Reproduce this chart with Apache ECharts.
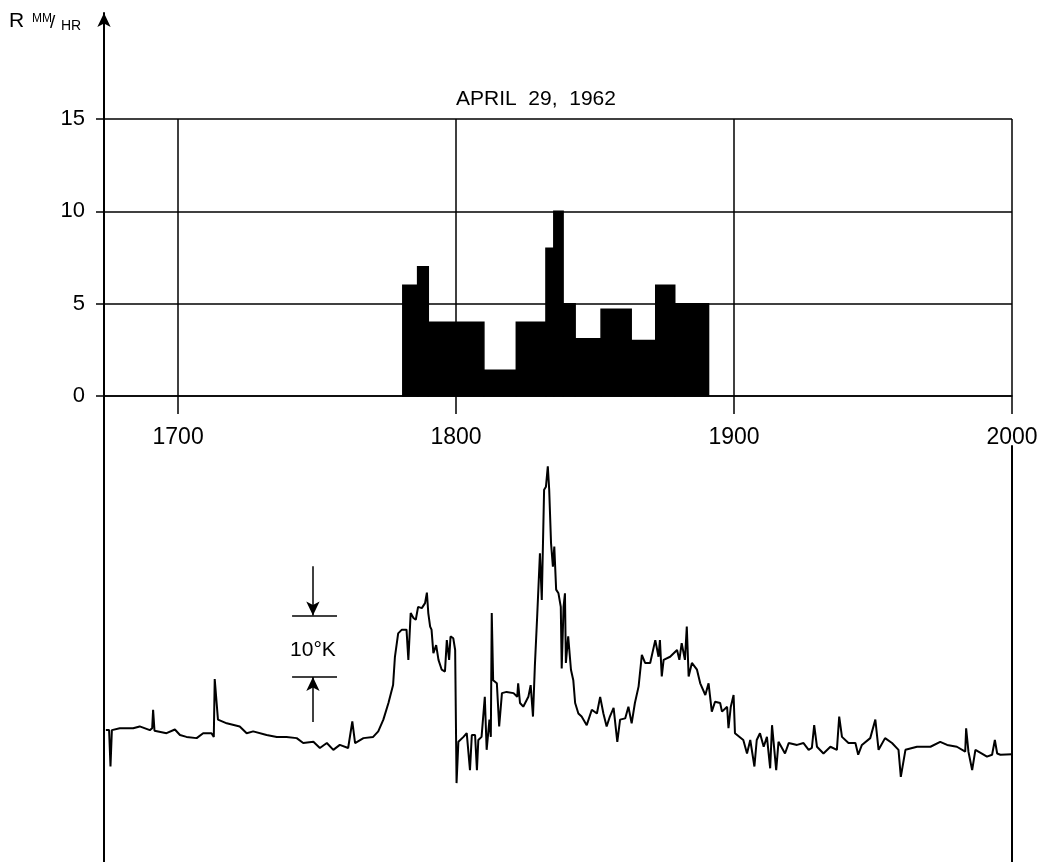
<!DOCTYPE html>
<html><head><meta charset="utf-8">
<script src="https://cdn.jsdelivr.net/npm/echarts@6/dist/echarts.min.js"></script>
<style>html,body{margin:0;padding:0;background:#fff}#c{width:1044px;height:862px}</style>
</head><body><div id="c"></div>
<script>
// time axis in minutes after midnight (1020 = 17:00)
const xTickValues = [1020, 1080, 1140, 1200];
const rateTickValues = [0, 5, 10, 15];

// rain-rate histogram: bar start, bar end (minutes), rate (mm/hr)
const barStart = [1068.5,1071.7,1074.0,1086.0,1093.0,1099.4,1101.1,1103.1,1105.7,1111.3,1117.8,1123.1,1127.2];
const barEnd   = [1071.7,1074.0,1086.0,1093.0,1099.4,1101.1,1103.1,1105.7,1111.3,1117.8,1123.1,1127.2,1134.5];
const barRate  = [6,7,4,1.4,4,8,10,5,3.1,4.7,3,6,5];

// antenna temperature trace (relative, K)
const traceTime = [
1004.4,1005.1,1005.4,1005.7,1007.4,1010.3,1011.7,1013.9,1014.4,1014.6,
1014.9,1017.5,1019.3,1020.4,1021.8,1024.0,1025.4,1027.2,1027.7,1027.9,
1028.6,1030.5,1033.3,1034.8,1036.2,1039.1,1041.3,1043.4,1045.6,1047.0,
1049.2,1050.6,1052.1,1053.5,1054.9,1056.7,1057.6,1058.2,1060.0,1062.1,
1063.2,1064.3,1065.4,1066.4,1066.8,1067.5,1068.3,1069.3,1069.7,1070.2,
1070.8,1071.3,1071.8,1072.6,1073.3,1073.7,1074.0,1074.4,1074.7,1075.1,
1075.7,1076.2,1076.9,1077.6,1078.0,1078.5,1078.8,1079.4,1079.8,1080.1,
1080.5,1081.6,1082.3,1083.0,1083.4,1084.1,1084.5,1084.8,1085.5,1086.2,
1086.6,1087.2,1087.5,1087.7,1088.0,1088.8,1089.3,1089.9,1090.9,1092.4,
1093.2,1093.4,1093.8,1094.5,1095.6,1096.1,1096.6,1097.0,1097.5,1098.1,
1098.5,1099.0,1099.4,1099.8,1100.1,1100.5,1100.9,1101.2,1101.6,1102.1,
1102.6,1102.8,1103.2,1103.5,1103.7,1104.2,1104.8,1105.3,1105.7,1106.4,
1107.1,1108.2,1109.3,1110.4,1111.1,1111.8,1112.5,1113.2,1114.0,1114.8,
1115.4,1116.5,1117.2,1117.9,1118.6,1119.4,1120.1,1120.8,1121.9,1123.0,
1123.7,1124.0,1124.4,1124.8,1126.2,1127.7,1128.2,1128.7,1129.4,1129.8,
1130.2,1130.9,1132.0,1132.7,1133.8,1134.5,1135.2,1135.9,1137.0,1137.4,
1138.5,1138.8,1139.3,1139.9,1140.2,1142.0,1142.8,1143.5,1144.4,1144.9,
1145.6,1146.4,1147.1,1147.8,1148.2,1149.1,1149.6,1151.0,1151.8,1153.6,
1155.0,1156.1,1156.8,1157.3,1157.9,1159.3,1160.8,1162.2,1162.7,1163.3,
1164.7,1166.2,1166.8,1167.6,1169.4,1170.5,1171.2,1172.6,1174.1,1175.5,
1176.0,1177.0,1179.5,1182.4,1184.5,1186.0,1188.1,1189.9,1190.1,1190.6,
1191.4,1192.1,1193.5,1194.6,1195.7,1196.3,1196.8,1197.5,1200.0];
const traceTemp = [
21.4,21.4,15.5,21.4,21.7,21.7,22.0,21.4,21.7,24.7,
21.3,20.9,21.5,20.6,20.3,20.1,20.9,20.9,20.3,29.7,
23.1,22.5,22.0,20.9,21.2,20.6,20.3,20.3,20.1,19.3,
19.5,18.5,19.3,18.2,19.0,18.5,22.8,19.3,20.1,20.3,
21.2,23.1,25.8,28.7,33.3,37.1,37.7,37.7,32.8,40.4,
39.6,39.3,41.4,41.2,42.0,43.7,40.4,38.2,37.7,33.9,
35.2,32.8,31.2,30.9,36.0,32.8,36.6,36.3,34.4,12.8,
19.5,20.3,20.9,14.9,20.6,20.6,14.9,19.8,20.3,26.8,
18.2,23.1,20.3,40.4,29.5,29.0,22.0,27.4,27.6,27.4,
26.8,29.0,25.8,25.2,26.8,28.7,23.6,31.7,39.8,50.1,
42.5,60.4,60.9,64.2,60.4,51.7,47.9,51.2,44.2,43.6,
41.4,31.4,41.4,43.6,32.3,36.6,31.2,29.5,25.8,24.1,
23.6,22.2,24.7,24.1,26.8,24.1,22.0,23.6,25.0,19.5,
23.1,23.3,25.2,22.5,25.8,28.5,33.6,32.3,32.3,36.0,
33.3,36.0,30.1,32.8,33.3,34.4,32.8,35.5,32.8,38.2,
30.1,32.3,31.2,29.0,27.1,29.0,24.4,26.0,25.8,24.4,
25.2,21.7,25.2,27.1,20.9,19.8,17.6,19.8,15.5,19.8,
20.9,18.7,20.3,15.2,22.2,14.9,19.5,17.6,19.3,19.0,
19.3,18.2,18.5,22.2,18.7,17.6,18.7,18.2,23.6,20.3,
19.3,19.3,17.4,19.0,20.1,23.1,18.2,20.1,19.3,18.2,
13.8,18.2,18.7,18.7,19.5,19.0,18.7,17.9,21.7,17.9,
14.9,18.2,17.6,17.1,17.4,19.8,17.6,17.4,17.5];

// 10 K scale bar (time of bar, its span, and the two levels, K)
const scaleBarTime = [1044.6, 1049.1, 1054.3];
const scaleBarK = [30, 40];
const scaleArrowTailK = [22.7, 48];
const scaleBarLabel = '10°K';

const FONT = 'Liberation Sans';
const hhmm = v => String(Math.floor(v / 60) * 100 + Math.round(v % 60));

const chart = echarts.init(document.getElementById('c'), null, {renderer: 'canvas'});
chart.setOption({
  animation: false,
  backgroundColor: '#fff',
  textStyle: {fontFamily: FONT, color: '#000'},
  title: [{
    text: 'APRIL  29,  1962', left: 451, top: 84,
    textStyle: {fontFamily: FONT, fontSize: 21, fontWeight: 'normal', color: '#000'}
  }],
  graphic: [
    {type: 'text', left: 9, top: 11, style: {text: 'R', font: '21px "Liberation Sans"', fill: '#000'}},
    {type: 'text', left: 32, top: 13, style: {text: 'MM', font: '12px "Liberation Sans"', fill: '#000'}},
    {type: 'text', left: 50, top: 13, style: {text: '/', font: '19px "Liberation Sans"', fill: '#000'}},
    {type: 'text', left: 61, top: 19, style: {text: 'HR', font: '14px "Liberation Sans"', fill: '#000'}}
  ],
  grid: [
    {left: 104, right: 32, top: 119, bottom: 466},
    {left: 104, right: 32, top: 446, bottom: 0},
    {left: 104, width: 10, top: 13, bottom: 0}
  ],
  xAxis: [
    {
      gridIndex: 0, type: 'value', min: 1004, max: 1200,
      axisLine: {show: true, lineStyle: {color: '#000', width: 1.5}},
      axisTick: {show: true, customValues: xTickValues, length: 18, lineStyle: {color: '#000', width: 1.5}},
      axisLabel: {show: true, customValues: xTickValues, formatter: hhmm, fontSize: 23, color: '#000', margin: 30, fontFamily: FONT},
      splitLine: {show: true, lineStyle: {color: '#000', width: 1.5}}
    },
    {gridIndex: 1, type: 'value', min: 1004, max: 1200, show: false},
    {gridIndex: 2, type: 'value', min: 0, max: 1, show: false}
  ],
  yAxis: [
    {
      gridIndex: 0, type: 'value', min: 0, max: 15, interval: 5,
      axisLine: {show: false},
      axisTick: {show: true, length: 8, lineStyle: {color: '#000', width: 1.5}},
      axisLabel: {show: true, fontSize: 22, color: '#000', margin: 19, fontFamily: FONT},
      splitLine: {show: true, lineStyle: {color: '#000', width: 1.5}}
    },
    {gridIndex: 1, type: 'value', min: 0, max: 67.5, show: false},
    {
      gridIndex: 1, type: 'value', min: 0, max: 67.5, position: 'right',
      axisLine: {show: true, lineStyle: {color: '#000', width: 2}},
      axisTick: {show: false}, axisLabel: {show: false}, splitLine: {show: false}
    },
    {
      gridIndex: 2, type: 'value', min: 0, max: 1,
      axisLine: {show: true, symbol: ['none', 'arrow'], symbolSize: [10, 14], lineStyle: {color: '#000', width: 2}},
      axisTick: {show: false}, axisLabel: {show: false}, splitLine: {show: false}
    }
  ],
  series: [
    {
      type: 'custom', xAxisIndex: 0, yAxisIndex: 0,
      data: barStart.map((s, i) => [s, barEnd[i], barRate[i]]),
      encode: {x: [0, 1], y: 2},
      renderItem: function (params, api) {
        const p0 = api.coord([api.value(0), api.value(2)]);
        const p1 = api.coord([api.value(1), 0]);
        return {type: 'rect', shape: {x: p0[0], y: p0[1], width: p1[0] - p0[0], height: p1[1] - p0[1]},
                style: {fill: '#000', stroke: '#000', lineWidth: 1.5}};
      }
    },
    {
      type: 'line', xAxisIndex: 1, yAxisIndex: 1,
      data: traceTime.map((t, i) => [t, traceTemp[i]]),
      showSymbol: false, symbol: 'none',
      lineStyle: {color: '#000', width: 2},
      markLine: {
        silent: true, symbol: ['none', 'none'], symbolSize: [10, 14],
        label: {show: false},
        lineStyle: {color: '#000', width: 1.5, type: 'solid'},
        data: [
          [{coord: [scaleBarTime[0], scaleBarK[1]]}, {coord: [scaleBarTime[2], scaleBarK[1]]}],
          [{coord: [scaleBarTime[0], scaleBarK[0]]}, {coord: [scaleBarTime[2], scaleBarK[0]]}],
          [{coord: [scaleBarTime[1], scaleArrowTailK[1]]}, {coord: [scaleBarTime[1], scaleBarK[1]], symbol: 'arrow'}],
          [{coord: [scaleBarTime[1], scaleArrowTailK[0]]}, {coord: [scaleBarTime[1], scaleBarK[0]], symbol: 'arrow'}]
        ]
      },
      markPoint: {
        silent: true, symbol: 'circle', symbolSize: 0,
        label: {show: true, position: 'inside', offset: [0, 4], formatter: scaleBarLabel, fontSize: 21, color: '#000', fontFamily: FONT},
        data: [{coord: [scaleBarTime[1], (scaleBarK[0] + scaleBarK[1]) / 2]}]
      }
    }
  ]
});
</script>
</body></html>
